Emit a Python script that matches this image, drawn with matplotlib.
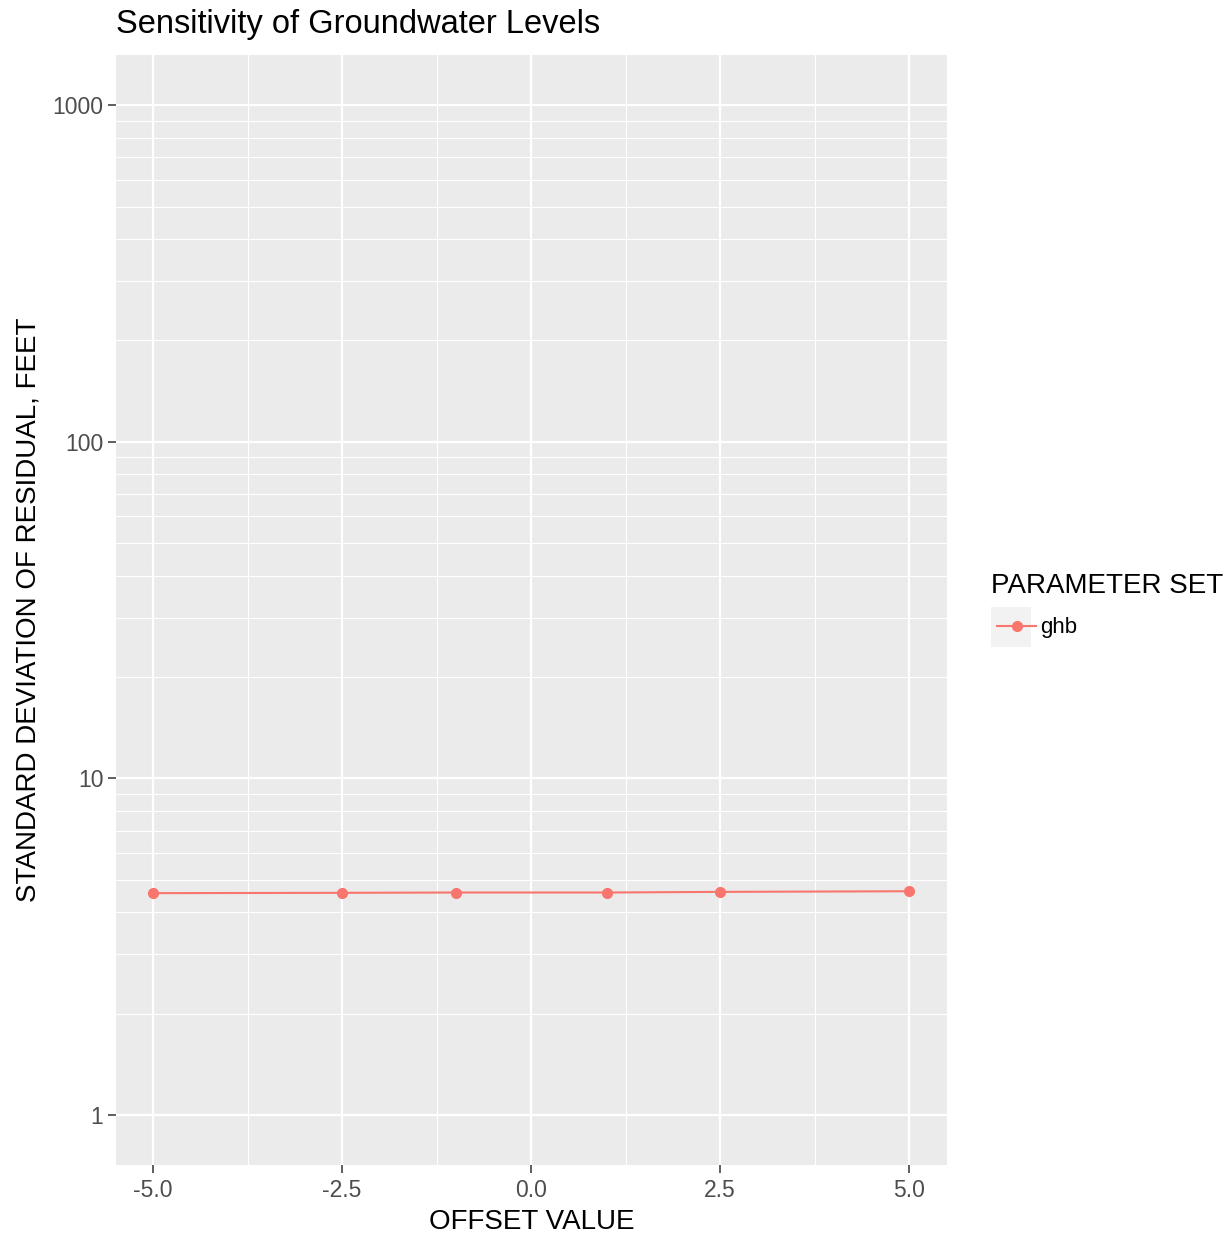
"""
Sensitivity of groundwater levels, ggplot-like styling
"""
import matplotlib
matplotlib.use("Agg")
import matplotlib.pyplot as plt
from matplotlib.patches import Rectangle
from matplotlib.ticker import FixedLocator, NullFormatter

offsets = [-5.0, -2.5, -1.0, 1.0, 2.5, 5.0]
std_resid = [4.56, 4.57, 4.58, 4.58, 4.60, 4.62]
series_name = "ghb"

x_breaks = [-5.0, -2.5, 0.0, 2.5, 5.0]
x_minor = [-3.75, -1.25, 1.25, 3.75]
y_breaks = [1, 10, 100, 1000]
y_minor = [m * 10 ** e for e in range(0, 3) for m in range(2, 10)]

plt.rcParams["font.family"] = ["Liberation Sans", "DejaVu Sans"]

W, H = 1232, 1241
fig = plt.figure(figsize=(W / 100, H / 100), dpi=100)
ax = fig.add_axes([116 / W, (H - 1165) / H, 831 / W, 1110 / H])
ax.set_facecolor("#EBEBEB")

ax.plot(offsets, std_resid, color="#F8766D", lw=1.5, marker="o", ms=7,
        label=series_name, zorder=3)

ax.set_yscale("log")
ax.set_xlim(-5.49, 5.5)
ax.set_ylim(0.71, 1410)

ax.xaxis.set_major_locator(FixedLocator(x_breaks))
ax.xaxis.set_minor_locator(FixedLocator(x_minor))
ax.yaxis.set_major_locator(FixedLocator(y_breaks))
ax.yaxis.set_minor_locator(FixedLocator(y_minor))
ax.yaxis.set_minor_formatter(NullFormatter())
ax.set_xticklabels([f"{v:.1f}" for v in x_breaks])
ax.set_yticklabels([str(v) for v in y_breaks])

ax.grid(which="major", color="white", lw=1.6)
ax.grid(which="minor", color="white", lw=0.8)
ax.set_axisbelow(True)
for s in ax.spines.values():
    s.set_visible(False)

ax.tick_params(which="major", length=6, width=1.1, color="#333333",
               labelcolor="#4D4D4D", labelsize=16.5, pad=3)
ax.tick_params(axis="x", which="major", pad=4)
ax.tick_params(which="minor", length=0)

ax.set_xlabel("OFFSET VALUE", fontsize=20, labelpad=5)
ax.set_ylabel("STANDARD DEVIATION OF RESIDUAL, FEET", fontsize=20, labelpad=8)
ax.set_title("Sensitivity of Groundwater Levels", fontsize=23.5, loc="left", pad=16)

# legend
fig.text(991 / W, 1 - 586 / H, "PARAMETER SET", fontsize=20, va="center", ha="left")
fig.patches.append(Rectangle((991 / W, 1 - 647 / H), 40 / W, 40 / H,
                             transform=fig.transFigure, facecolor="#F2F2F2",
                             edgecolor="none"))
leg = fig.legend(loc="center left", bbox_to_anchor=(986 / W, 1 - 628 / H),
                 frameon=False, fontsize=16, handlelength=1.75,
                 handletextpad=0.2, borderpad=0)

fig.savefig("out.png", dpi=100)
